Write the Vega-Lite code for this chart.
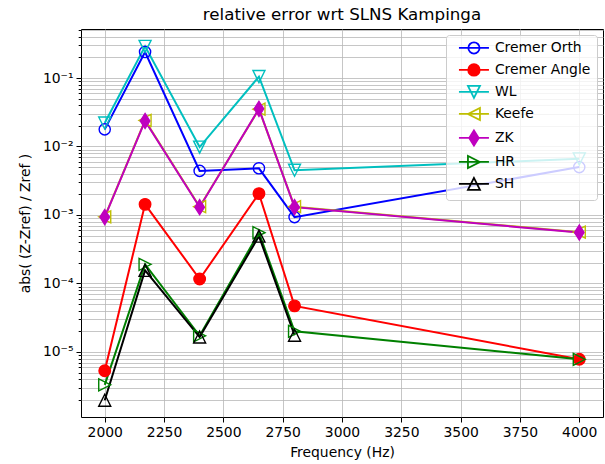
{
  "$schema": "https://vega.github.io/schema/vega-lite/v6.json",
  "width": 522,
  "height": 388,
  "autosize": "none",
  "padding": {"left": 81, "top": 29, "right": 2, "bottom": 47},
  "background": "white",
  "title": {"text": "relative error wrt SLNS Kampinga", "font": "DejaVu Sans", "fontSize": 16.7, "fontWeight": "normal", "color": "black", "offset": -1, "anchor": "middle"},
  "config": {
    "view": {"stroke": "black", "strokeWidth": 1},
    "font": "DejaVu Sans",
    "axis": {"labelFont": "DejaVu Sans", "titleFont": "DejaVu Sans", "labelColor": "black", "titleColor": "black", "titleFontWeight": "normal", "labelFontSize": 13.9, "titleFontSize": 13.9, "tickColor": "black", "domain": false, "gridColor": "#b8b8b8", "gridWidth": 0.8, "labelOverlap": false, "labelFlush": false}
  },
  "data": {"values": [
    {"f": 2000, "v": 0.0178, "s": "Cremer Orth"},
    {"f": 2170, "v": 0.24, "s": "Cremer Orth"},
    {"f": 2400, "v": 0.0044, "s": "Cremer Orth"},
    {"f": 2650, "v": 0.0048, "s": "Cremer Orth"},
    {"f": 2800, "v": 0.00093, "s": "Cremer Orth"},
    {"f": 4000, "v": 0.0050, "s": "Cremer Orth"},
    {"f": 2000, "v": 5.3e-6, "s": "Cremer Angle"},
    {"f": 2170, "v": 1.43e-3, "s": "Cremer Angle"},
    {"f": 2400, "v": 1.16e-4, "s": "Cremer Angle"},
    {"f": 2650, "v": 2.05e-3, "s": "Cremer Angle"},
    {"f": 2800, "v": 4.7e-5, "s": "Cremer Angle"},
    {"f": 4000, "v": 7.8e-6, "s": "Cremer Angle"},
    {"f": 2000, "v": 0.022, "s": "WL"},
    {"f": 2170, "v": 0.29, "s": "WL"},
    {"f": 2400, "v": 0.0098, "s": "WL"},
    {"f": 2650, "v": 0.105, "s": "WL"},
    {"f": 2800, "v": 0.0045, "s": "WL"},
    {"f": 4000, "v": 0.0066, "s": "WL"},
    {"f": 2000, "v": 9.4e-4, "s": "Keefe"},
    {"f": 2170, "v": 0.0240, "s": "Keefe"},
    {"f": 2400, "v": 0.00132, "s": "Keefe"},
    {"f": 2650, "v": 0.0350, "s": "Keefe"},
    {"f": 2800, "v": 0.00132, "s": "Keefe"},
    {"f": 4000, "v": 5.6e-4, "s": "Keefe"},
    {"f": 2000, "v": 9.3e-4, "s": "ZK"},
    {"f": 2170, "v": 0.0236, "s": "ZK"},
    {"f": 2400, "v": 0.00130, "s": "ZK"},
    {"f": 2650, "v": 0.0355, "s": "ZK"},
    {"f": 2800, "v": 0.00130, "s": "ZK"},
    {"f": 4000, "v": 5.55e-4, "s": "ZK"},
    {"f": 2000, "v": 3.3e-6, "s": "HR"},
    {"f": 2170, "v": 1.9e-4, "s": "HR"},
    {"f": 2400, "v": 1.72e-5, "s": "HR"},
    {"f": 2650, "v": 5.5e-4, "s": "HR"},
    {"f": 2800, "v": 2.0e-5, "s": "HR"},
    {"f": 4000, "v": 7.8e-6, "s": "HR"},
    {"f": 2000, "v": 1.97e-6, "s": "SH"},
    {"f": 2170, "v": 1.55e-4, "s": "SH"},
    {"f": 2400, "v": 1.65e-5, "s": "SH"},
    {"f": 2650, "v": 4.9e-4, "s": "SH"},
    {"f": 2800, "v": 1.75e-5, "s": "SH"}
  ]},
  "encoding": {
    "x": {"field": "f", "type": "quantitative", "scale": {"domain": [1900, 4100], "nice": false, "zero": false},
      "axis": {"title": "Frequency (Hz)", "values": [2000, 2250, 2500, 2750, 3000, 3250, 3500, 3750, 4000], "format": "d", "grid": true, "tickSize": 5, "labelPadding": 3, "titlePadding": 7}},
    "y": {"field": "v", "type": "quantitative", "scale": {"type": "log", "domain": [1.12e-6, 0.52], "nice": false},
      "axis": {"title": "abs( (Z-Zref) / Zref )", "grid": true, "titlePadding": 10,
        "values": [2e-6,3e-6,4e-6,5e-6,6e-6,7e-6,8e-6,9e-6,1e-5,2e-5,3e-5,4e-5,5e-5,6e-5,7e-5,8e-5,9e-5,1e-4,2e-4,3e-4,4e-4,5e-4,6e-4,7e-4,8e-4,9e-4,1e-3,2e-3,3e-3,4e-3,5e-3,6e-3,7e-3,8e-3,9e-3,1e-2,2e-2,3e-2,4e-2,5e-2,6e-2,7e-2,8e-2,9e-2,1e-1,2e-1,3e-1,4e-1,5e-1],
        "tickSize": {"condition": {"test": "abs(log(datum.value)/LN10 - round(log(datum.value)/LN10)) < 1e-6", "value": 5}, "value": 2.8},
        "labelExpr": "abs(log(datum.value)/LN10 - round(log(datum.value)/LN10)) < 1e-6 ? '10' + ['⁰','⁻¹','⁻²','⁻³','⁻⁴','⁻⁵','⁻⁶'][-round(log(datum.value)/LN10)] : ''",
        "labelPadding": 3}}
  },
  "layer": [
    {
      "mark": {"type": "line", "strokeWidth": 2},
      "encoding": {
        "stroke": {"field": "s", "type": "nominal", "legend": null,
          "scale": {"domain": ["Cremer Orth", "Cremer Angle", "WL", "Keefe", "ZK", "HR", "SH"], "range": ["#0000ff", "#ff0000", "#00bfbf", "#bfbf00", "#bf00bf", "#008000", "#000000"]}}
      }
    },
    {
      "mark": {"type": "point", "size": 100, "strokeWidth": 1.4, "opacity": 1},
      "encoding": {
        "stroke": {"field": "s", "type": "nominal", "legend": null,
          "scale": {"domain": ["Cremer Orth", "Cremer Angle", "WL", "Keefe", "ZK", "HR", "SH"], "range": ["#0000ff", "#ff0000", "#00bfbf", "#bfbf00", "#bf00bf", "#008000", "#000000"]}},
        "fill": {"field": "s", "type": "nominal", "legend": null,
          "scale": {"domain": ["Cremer Orth", "Cremer Angle", "WL", "Keefe", "ZK", "HR", "SH"], "range": ["transparent", "#ff0000", "transparent", "transparent", "#bf00bf", "transparent", "transparent"]}},
        "shape": {"field": "s", "type": "nominal", "legend": null,
          "scale": {"domain": ["Cremer Orth", "Cremer Angle", "WL", "Keefe", "ZK", "HR", "SH"], "range": [
            "M-1.12,0A1.12,1.12,0,1,0,1.12,0A1.12,1.12,0,1,0,-1.12,0Z",
            "M-1.15,0A1.15,1.15,0,1,0,1.15,0A1.15,1.15,0,1,0,-1.15,0Z",
            "M0,1.2L-1.2,-1.2L1.2,-1.2Z",
            "M-1.2,0L1.2,-1.2L1.2,1.2Z",
            "M0,-1.5L0.95,0L0,1.5L-0.95,0Z",
            "M1.2,0L-1.2,-1.2L-1.2,1.2Z",
            "M0,-1.2L-1.2,1.2L1.2,1.2Z"]}}
      }
    },
    {
      "mark": {"type": "point", "size": 100, "strokeWidth": 1.8, "opacity": 0},
      "encoding": {
        "stroke": {"field": "s", "type": "nominal",
          "scale": {"domain": ["Cremer Orth", "Cremer Angle", "WL", "Keefe", "ZK", "HR", "SH"], "range": ["#0000ff", "#ff0000", "#00bfbf", "#bfbf00", "#bf00bf", "#008000", "#000000"]},
          "legend": {"title": null, "orient": "top-right", "offset": 6, "fillColor": "rgba(255,255,255,0.8)", "strokeColor": "#cccccc", "cornerRadius": 3, "padding": 6, "labelFont": "DejaVu Sans", "labelFontSize": 13.9, "labelColor": "black", "symbolSize": 100, "symbolStrokeWidth": 1.8, "symbolOpacity": 1, "symbolOffset": 15, "labelOffset": 14, "rowPadding": 2}},
        "fill": {"field": "s", "type": "nominal",
          "scale": {"domain": ["Cremer Orth", "Cremer Angle", "WL", "Keefe", "ZK", "HR", "SH"], "range": ["transparent", "#ff0000", "transparent", "transparent", "#bf00bf", "transparent", "transparent"]},
          "legend": {"title": null, "orient": "top-right", "offset": 6, "fillColor": "rgba(255,255,255,0.8)", "strokeColor": "#cccccc", "cornerRadius": 3, "padding": 6, "labelFont": "DejaVu Sans", "labelFontSize": 13.9, "labelColor": "black", "symbolSize": 100, "symbolStrokeWidth": 1.8, "symbolOpacity": 1, "symbolOffset": 15, "labelOffset": 14, "rowPadding": 2}},
        "shape": {"field": "s", "type": "nominal",
          "legend": {"title": null, "orient": "top-right", "offset": 6, "fillColor": "rgba(255,255,255,0.8)", "strokeColor": "#cccccc", "cornerRadius": 3, "padding": 6, "labelFont": "DejaVu Sans", "labelFontSize": 13.9, "labelColor": "black", "symbolSize": 100, "symbolStrokeWidth": 1.8, "symbolOpacity": 1, "symbolOffset": 15, "labelOffset": 14, "rowPadding": 2},
          "scale": {"domain": ["Cremer Orth", "Cremer Angle", "WL", "Keefe", "ZK", "HR", "SH"], "range": [
            "M-3,0H3M-1.12,0A1.12,1.12,0,1,0,1.12,0A1.12,1.12,0,1,0,-1.12,0Z",
            "M-3,0H3M-1.15,0A1.15,1.15,0,1,0,1.15,0A1.15,1.15,0,1,0,-1.15,0Z",
            "M-3,0H3M0,1.2L-1.2,-1.2L1.2,-1.2Z",
            "M-3,0H3M-1.2,0L1.2,-1.2L1.2,1.2Z",
            "M-3,0H3M0,-1.5L0.95,0L0,1.5L-0.95,0Z",
            "M-3,0H3M1.2,0L-1.2,-1.2L-1.2,1.2Z",
            "M-3,0H3M0,-1.2L-1.2,1.2L1.2,1.2Z"]}}
      }
    }
  ],
  "resolve": {"scale": {"stroke": "independent", "fill": "independent", "shape": "independent"}, "legend": {"stroke": "independent", "fill": "independent", "shape": "independent"}}
}
